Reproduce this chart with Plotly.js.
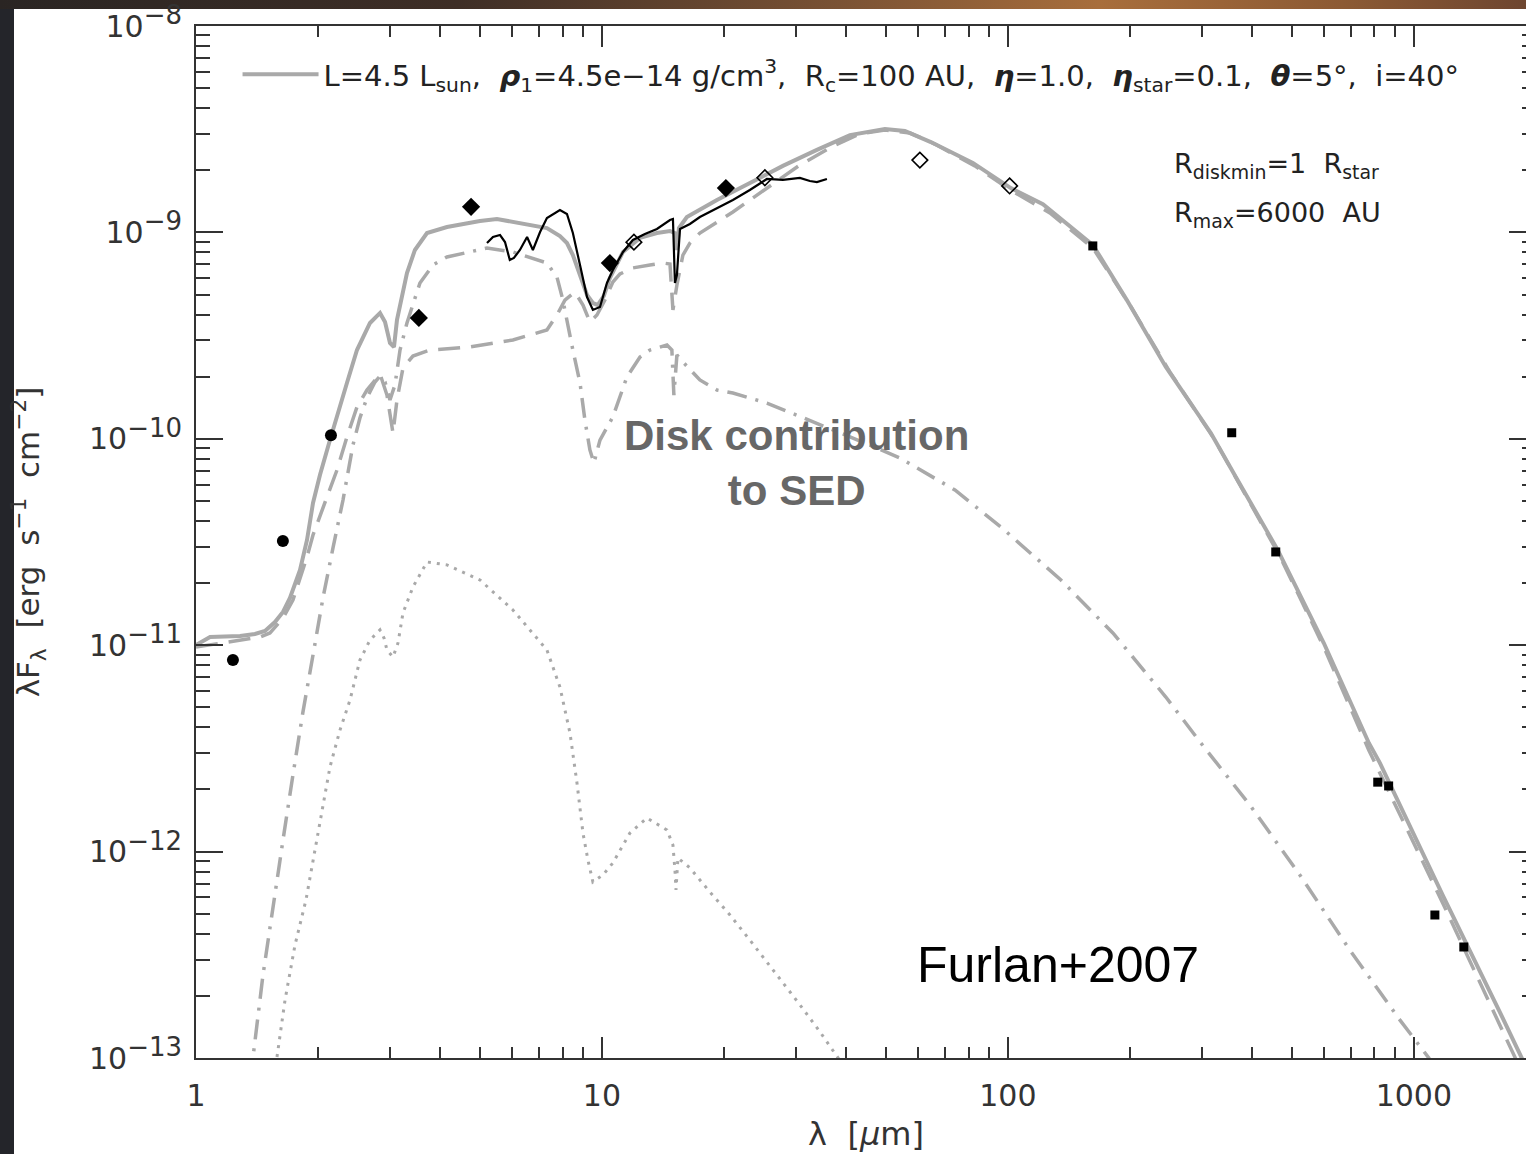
<!DOCTYPE html>
<html><head><meta charset="utf-8">
<script src="https://cdn.plot.ly/plotly-3.0.1.min.js"></script>
<style>
html,body{margin:0;padding:0;overflow:hidden;width:1526px;height:1154px;background:#24252a;}
#topband{position:absolute;left:0;top:0;width:1526px;height:9px;background:linear-gradient(90deg,#2a2523 0%,#3e2e26 30%,#7a5234 55%,#a86e3c 72%,#8c5a34 88%,#6e4630 100%);}
#panel{position:absolute;left:14px;top:9px;width:1512px;height:1145px;background:#ffffff;}
#chart{position:absolute;left:0;top:0;width:1560px;height:1154px;}
</style></head><body>
<div id="topband"></div><div id="panel"></div><div id="chart"></div>
<script>
// ---- model: total SED (solid) ----
const modelWave = [1.000,1.083,1.284,1.397,1.479,1.565,1.638,1.704,1.804,1.877,1.942,2.020,2.138,2.263,2.354,2.492,2.683,2.840,2.922,3.005,3.074,3.127,3.217,3.309,3.462,3.707,4.152,5.006,5.513,6.647,7.32,7.88,8.20,8.48,8.83,9.19,9.50,9.77,10.11,10.46,11.27,12.41,13.66,14.71,15.13,15.30,15.48,16.19,19.20,23.14,27.91,33.85,40.82,49.78,55.77,64.6,82.0,101.7,122.0,162.0,196.4,245.0,316.2,364.4,462.4,600.2,774.9,824.8,1178,1629,1845,1931];
const modelFlux = [1.002e-11,1.096e-11,1.109e-11,1.133e-11,1.172e-11,1.295e-11,1.449e-11,1.694e-11,2.314e-11,3.235e-11,4.887e-11,6.679e-11,9.86e-11,1.459e-10,1.864e-10,2.692e-10,3.640e-10,4.071e-10,3.681e-10,2.912e-10,2.786e-10,3.767e-10,4.975e-10,6.359e-10,8.22e-10,9.93e-10,1.062e-9,1.136e-9,1.161e-9,1.086e-9,1.050e-9,9.61e-10,8.88e-10,7.77e-10,6.22e-10,4.975e-10,4.55e-10,4.45e-10,4.92e-10,6.01e-10,8.04e-10,9.40e-10,9.93e-10,1.016e-9,9.93e-10,8.22e-10,1.050e-9,1.187e-9,1.436e-9,1.735e-9,2.10e-9,2.51e-9,2.96e-9,3.17e-9,3.10e-9,2.74e-9,2.17e-9,1.64e-9,1.37e-9,8.69e-10,4.70e-10,2.23e-10,1.067e-10,6.53e-11,2.89e-11,1.025e-11,3.36e-12,2.69e-12,6.16e-13,1.67e-13,1.01e-13,8.28e-14];

// ---- long-dashed component ----
const envWave = [1.000,1.284,1.438,1.521,1.638,1.733,1.804,1.877,1.942,2.020,2.102,2.225,2.354,2.492,2.637,2.840,2.954,3.057,3.127,3.235,3.423,3.771,4.730,6.035,7.32,7.748,8.106,8.58,8.98,9.34,9.72,10.17,10.64,11.08,11.92,13.13,14.13,14.71,14.96,15.30,15.83,16.47,17.43,21.02,25.49,30.74,37.07,43.2,49.8,57.4,66.1,82.9,101.7,126.9,162,199.8,250.6,323.6,467.7,600.2,774.9,1178,1774,1877];
const envFlux = [9.8e-12,1.059e-11,1.096e-11,1.146e-11,1.355e-11,1.656e-11,2.118e-11,2.675e-11,3.42e-11,4.27e-11,5.22e-11,7.06e-11,1.021e-10,1.426e-10,1.722e-10,2.061e-10,1.629e-10,1.067e-10,1.542e-10,2.203e-10,2.518e-10,2.692e-10,2.786e-10,3.013e-10,3.365e-10,3.98e-10,4.70e-10,5.14e-10,4.45e-10,3.681e-10,3.98e-10,4.70e-10,5.75e-10,6.29e-10,6.73e-10,6.95e-10,7.11e-10,7.03e-10,4.21e-10,5.56e-10,7.77e-10,8.88e-10,9.93e-10,1.256e-9,1.64e-9,2.12e-9,2.62e-9,3.00e-9,3.13e-9,3.03e-9,2.68e-9,2.10e-9,1.60e-9,1.242e-9,8.40e-10,4.45e-10,2.11e-10,9.86e-11,2.70e-11,9.8e-12,3.10e-12,5.64e-13,1.01e-13,8.0e-14];

// ---- dash-dot component (disk contribution) ----
const diskWave = [1.358,1.382,1.462,1.548,1.638,1.733,1.834,1.942,2.055,2.175,2.302,2.436,2.534,2.637,2.760,2.840,2.922,3.005,3.091,3.181,3.309,3.562,3.835,4.152,5.21,6.035,7.32,7.748,8.013,8.48,8.83,9.08,9.34,9.557,9.89,10.64,11.52,12.41,13.13,14.46,14.87,15.04,15.30,15.83,17.43,19.20,21.02,25.49,30.74,37.07,45.7,54.2,74.06,96.1,135.1,181.4,245.0,298.8,394.6,523.9,695.8,923.7,1089,1159];
const diskFlux = [7.82e-14,1.01e-13,2.52e-13,5.51e-13,1.138e-12,2.35e-12,4.74e-12,8.97e-12,1.694e-11,2.96e-11,5.05e-11,9.33e-11,1.262e-10,1.578e-10,1.884e-10,2.014e-10,1.884e-10,1.542e-10,1.824e-10,2.692e-10,3.64e-10,5.69e-10,6.95e-10,7.60e-10,8.40e-10,8.04e-10,7.11e-10,6.08e-10,4.70e-10,2.692e-10,1.864e-10,1.233e-10,8.83e-11,7.64e-11,9.86e-11,1.276e-10,1.991e-10,2.489e-10,2.692e-10,2.845e-10,2.692e-10,1.629e-10,2.547e-10,2.355e-10,1.928e-10,1.722e-10,1.667e-10,1.49e-10,1.276e-10,1.104e-10,9.33e-11,8.07e-11,5.65e-11,3.74e-11,2.07e-11,1.146e-11,5.61e-12,3.36e-12,1.68e-12,7.71e-13,3.33e-13,1.53e-13,1.0e-13,7.82e-14];

// ---- dotted component ----
const dotWave = [1.565,1.583,1.657,1.753,1.866,1.942,2.020,2.138,2.263,2.395,2.534,2.683,2.840,2.905,2.954,3.057,3.145,3.235,3.423,3.707,4.152,5.006,6.035,7.32,7.88,8.341,8.68,8.98,9.237,9.50,10.06,10.64,11.72,12.91,14.46,14.96,15.13,15.22,15.39,16.47,18.45,20.67,23.14,26.68,30.74,34.43,38.14,40.82];
const dotFlux = [8.28e-14,1.01e-13,1.91e-13,3.52e-13,5.83e-13,9.10e-13,1.422e-12,2.57e-12,3.88e-12,5.42e-12,8.47e-12,1.059e-11,1.186e-11,1.084e-11,9.48e-12,8.77e-12,1.025e-11,1.432e-11,1.914e-11,2.53e-11,2.45e-11,2.07e-11,1.482e-11,9.48e-12,6.27e-12,3.76e-12,2.15e-12,1.230e-12,9.10e-13,7.13e-13,7.71e-13,8.81e-13,1.230e-12,1.455e-12,1.273e-12,1.076e-12,8.15e-13,6.52e-13,9.31e-13,8.34e-13,6.37e-13,4.93e-13,3.73e-13,2.61e-13,1.81e-13,1.34e-13,1.01e-13,8.28e-14];

// ---- observed IRS spectrum (black) ----
const irsWave = [5.21,5.39,5.61,5.77,5.93,6.07,6.28,6.54,6.76,7.04,7.32,7.88,8.20,8.48,8.83,9.19,9.50,9.89,10.29,10.64,11.27,11.92,12.76,13.66,14.71,14.96,15.13,15.30,15.57,16.47,17.43,18.98,21.02,23.14,24.50,25.49,27.91,30.74,32.53,33.85,35.83];
const irsFlux = [8.88e-10,9.50e-10,9.71e-10,8.98e-10,7.35e-10,7.52e-10,8.22e-10,9.50e-10,8.22e-10,1.004e-9,1.174e-9,1.284e-9,1.228e-9,9.93e-10,6.95e-10,4.86e-10,4.21e-10,4.35e-10,5.69e-10,6.57e-10,8.04e-10,9.19e-10,9.82e-10,1.039e-9,1.148e-9,1.161e-9,5.69e-10,6.22e-10,1.039e-9,1.098e-9,1.187e-9,1.299e-9,1.436e-9,1.605e-9,1.735e-9,1.815e-9,1.795e-9,1.835e-9,1.774e-9,1.754e-9,1.815e-9];

// ---- photometry ----
const circWave = [1.233,1.637,2.15];
const circFlux = [8.47e-12,3.2e-11,1.04e-10];
const diamWave = [3.54,4.76,10.46,20.2];
const diamFlux = [3.85e-10,1.33e-9,7.1e-10,1.64e-9];
const openWave = [11.99,25.2,60.7,101];
const openFlux = [8.97e-10,1.84e-9,2.24e-9,1.68e-9];
const sqWave = [161.9,356,457,815,867,1127,1328];
const sqFlux = [8.6e-10,1.07e-10,2.83e-11,2.17e-12,2.08e-12,4.93e-13,3.45e-13];

// ---- axis ticks ----
const xTickVals = [1,10,100,1000];
const xTickText = ['1','10','100','1000'];
const yTickVals = [1e-13,1e-12,1e-11,1e-10,1e-9,1e-8];
const yExponents = ['\u221213','\u221212','\u221211','\u221210','\u22129','\u22128'];
const yTickText = yExponents.map(e => '10<sup><span style="font-size:26px">' + e + '</span></sup>');
const NB = '\u00a0';
const legendText = 'L=4.5 L<sub>sun</sub>,' + NB + NB + '<b><i>\u03c1</i></b><sub>1</sub>=4.5e\u221214 g/cm<sup>3</sup>,' + NB + NB +
  'R<sub>c</sub>=100 AU,' + NB + NB + '<b><i>\u03b7</i></b>=1.0,' + NB + NB + '<b><i>\u03b7</i></b><sub>star</sub>=0.1,' + NB + NB +
  '<b><i>\u03b8</i></b>=5\u00b0,' + NB + NB + 'i=40\u00b0';

const minorX = [], minorY = [];
for (let e = 0; e <= 3; e++) for (let m = 2; m <= 9; m++) minorX.push(m * Math.pow(10, e));
for (let e = -13; e <= -9; e++) for (let m = 2; m <= 9; m++) minorY.push(m * Math.pow(10, e));

const GRAY = '#a9a9a9';
const IDL = 'DejaVu Sans, Liberation Sans, sans-serif';
const HELV = 'Liberation Sans, Arial, sans-serif';

const traces = [
  {x: dotWave, y: dotFlux, mode: 'lines', showlegend: false, line: {color: GRAY, width: 3, dash: '3px,6px'}},
  {x: diskWave, y: diskFlux, mode: 'lines', showlegend: false, line: {color: GRAY, width: 3.5, dash: '20px,9px,3px,9px'}},
  {x: envWave, y: envFlux, mode: 'lines', showlegend: false, line: {color: GRAY, width: 3.5, dash: '22px,11px'}},
  {x: modelWave, y: modelFlux, mode: 'lines', name: legendText, showlegend: true, line: {color: GRAY, width: 4}},
  {x: irsWave, y: irsFlux, mode: 'lines', showlegend: false, line: {color: '#000', width: 2.2}},
  {x: circWave, y: circFlux, mode: 'markers', showlegend: false, marker: {symbol: 'circle', size: 12, color: '#000'}},
  {x: diamWave, y: diamFlux, mode: 'markers', showlegend: false, marker: {symbol: 'diamond', size: 14, color: '#000'}},
  {x: openWave, y: openFlux, mode: 'markers', showlegend: false, marker: {symbol: 'diamond-open', size: 12, color: '#000', line: {width: 1.6, color: '#000'}}},
  {x: sqWave, y: sqFlux, mode: 'markers', showlegend: false, marker: {symbol: 'square', size: 9, color: '#000'}}
];

const axisCommon = {
  type: 'log', showgrid: false, zeroline: false, mirror: 'ticks',
  showline: true, linecolor: '#333', linewidth: 2,
  ticks: 'inside', tickcolor: '#333', tickwidth: 2,
  ticklabeloverflow: 'allow',
  tickfont: {family: IDL, size: 30, color: '#333'}
};

const layout = {
  width: 1560, height: 1154,
  margin: {l: 196, r: 24, t: 26, b: 96},
  paper_bgcolor: 'rgba(0,0,0,0)', plot_bgcolor: 'rgba(0,0,0,0)',
  font: {family: IDL, color: '#222'},
  xaxis: Object.assign({}, axisCommon, {
    range: [0, Math.log10(2000)],
    tickmode: 'array', tickvals: xTickVals, ticktext: xTickText, ticklen: 21,
    ticklabelstandoff: 10,
    minor: {tickmode: 'array', tickvals: minorX, ticks: 'inside', ticklen: 11, tickwidth: 2, tickcolor: '#333'},
    title: {text: '\u03bb  [<i>\u03bc</i>m]', font: {family: IDL, size: 32, color: '#333'}, standoff: 11}
  }),
  yaxis: Object.assign({}, axisCommon, {
    range: [-13, -8],
    tickmode: 'array', tickvals: yTickVals, ticktext: yTickText, ticklen: 27,
    ticklabelstandoff: 6,
    minor: {tickmode: 'array', tickvals: minorY, ticks: 'inside', ticklen: 14, tickwidth: 2, tickcolor: '#333'},
    title: {text: '\u03bbF<sub>\u03bb</sub>  [erg  s<sup>\u22121</sup>  cm<sup>\u22122</sup>]', font: {family: IDL, size: 31, color: '#333'}, standoff: 40}
  }),
  showlegend: true,
  legend: {x: 0.031, y: 0.953, xanchor: 'left', yanchor: 'middle', bgcolor: 'rgba(0,0,0,0)', borderwidth: 0,
           font: {family: IDL, size: 29, color: '#222'}, itemwidth: 76},
  annotations: [
    {xref: 'paper', yref: 'paper', x: 0.7284, y: 0.8653, xanchor: 'left', yanchor: 'middle', showarrow: false,
     text: 'R<sub>diskmin</sub>=1  R<sub>star</sub>', font: {family: IDL, size: 27, color: '#222'}},
    {xref: 'paper', yref: 'paper', x: 0.7284, y: 0.8178, xanchor: 'left', yanchor: 'middle', showarrow: false,
     text: 'R<sub>max</sub>=6000  AU', font: {family: IDL, size: 27, color: '#222'}},
    {xref: 'paper', yref: 'paper', x: 0.4485, y: 0.5766, xanchor: 'center', yanchor: 'middle', showarrow: false,
     text: '<b>Disk contribution<br>to SED</b>', align: 'center', font: {family: HELV, size: 42, color: '#676767'}},
    {xref: 'paper', yref: 'paper', x: 0.5366, y: 0.0901, xanchor: 'left', yanchor: 'middle', showarrow: false,
     text: 'Furlan+2007', font: {family: HELV, size: 50, color: '#000'}}
  ]
};

Plotly.newPlot('chart', traces, layout, {staticPlot: true, displayModeBar: false});
</script></body></html>
